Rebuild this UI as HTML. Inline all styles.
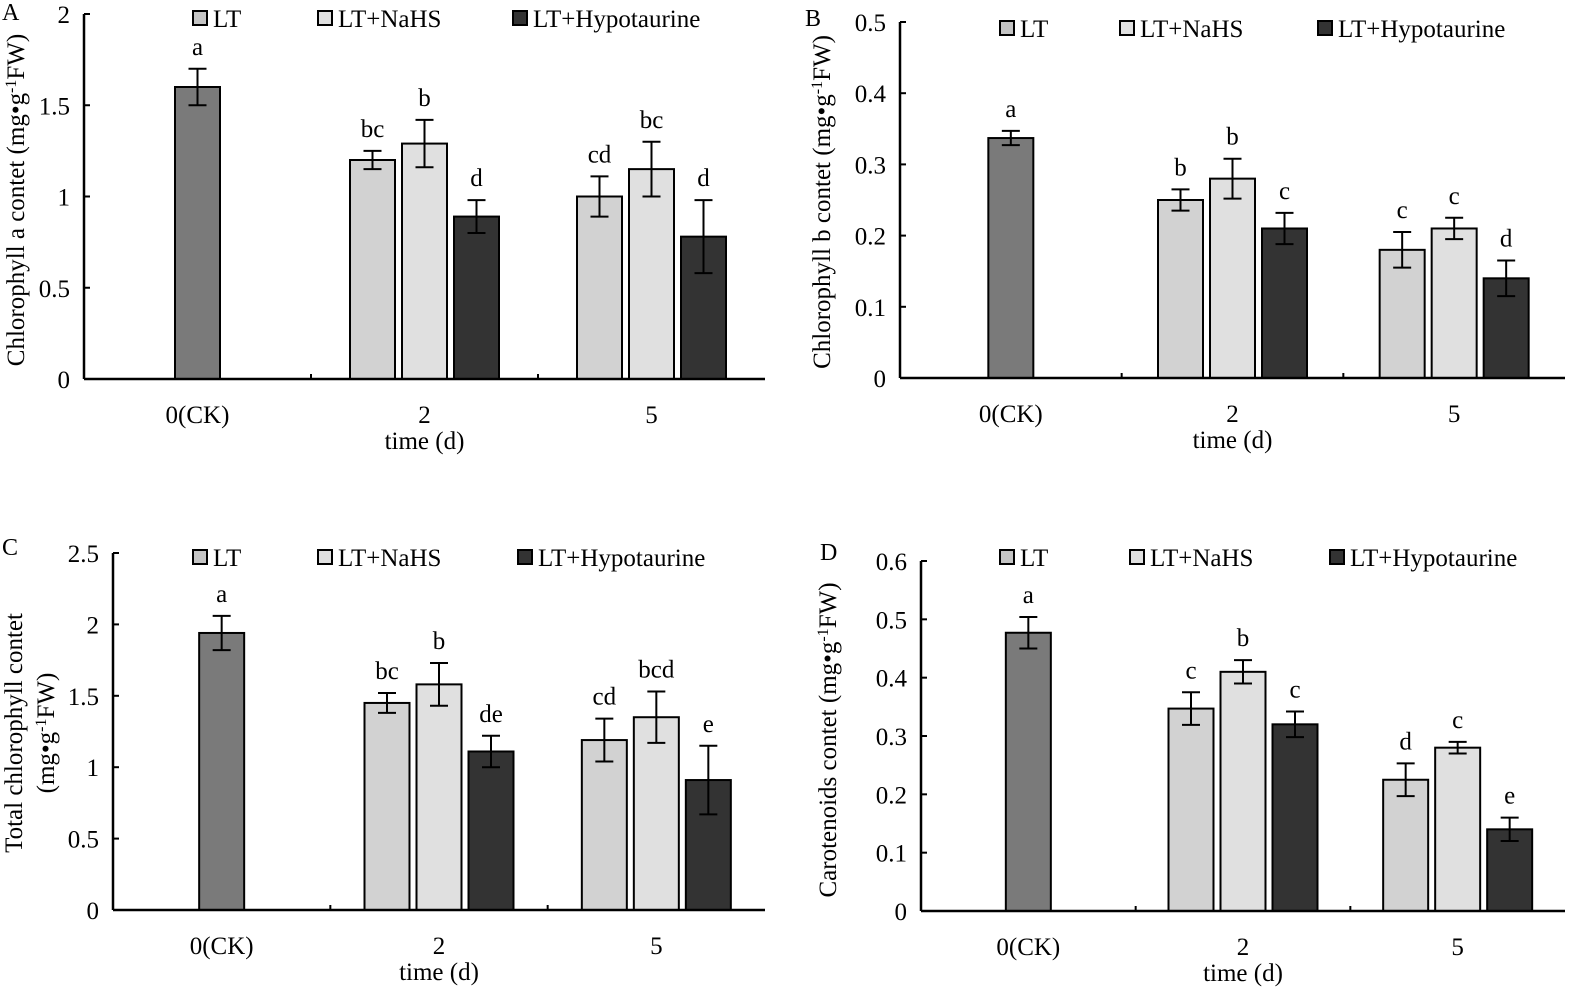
<!DOCTYPE html>
<html><head><meta charset="utf-8"><style>
body{margin:0;background:#fff;}
svg{display:block;font-family:"Liberation Serif",serif;}
</style></head><body>
<svg id="s" width="1594" height="1004"></svg>
<script>
const categories=["0(CK)","2","5"];
const seriesNames=["LT","LT+NaHS","LT+Hypotaurine"];
const aCK=[1.6,0.1], aLT=[1.2,1.0], aLTe=[0.05,0.11], aNa=[1.29,1.15], aNae=[0.13,0.15], aHy=[0.89,0.78], aHye=[0.09,0.2];
const aLetters=["a","bc","b","d","cd","bc","d"];
const bCK=[0.337,0.01], bLT=[0.25,0.18], bLTe=[0.015,0.025], bNa=[0.28,0.21], bNae=[0.028,0.015], bHy=[0.21,0.14], bHye=[0.022,0.025];
const bLetters=["a","b","b","c","c","c","d"];
const cCK=[1.94,0.12], cLT=[1.45,1.19], cLTe=[0.07,0.15], cNa=[1.58,1.35], cNae=[0.15,0.18], cHy=[1.11,0.91], cHye=[0.11,0.24];
const cLetters=["a","bc","b","de","cd","bcd","e"];
const dCK=[0.477,0.027], dLT=[0.347,0.225], dLTe=[0.028,0.028], dNa=[0.41,0.28], dNae=[0.02,0.01], dHy=[0.32,0.14], dHye=[0.022,0.02];
const dLetters=["a","c","b","c","d","c","e"];
const aTicks=["0","0.5","1","1.5","2"], bTicks=["0","0.1","0.2","0.3","0.4","0.5"], cTicks=["0","0.5","1","1.5","2","2.5"], dTicks=["0","0.1","0.2","0.3","0.4","0.5","0.6"];
const NS="http://www.w3.org/2000/svg";
const svg=document.getElementById('s');
const FS=25;
function el(t,a,p,txt){const e=document.createElementNS(NS,t);for(const k in a)e.setAttribute(k,a[k]);if(txt!==undefined)e.textContent=txt;(p||svg).appendChild(e);return e;}
function panel(P){
  const g=el('g',{});
  
  
  const ymax=parseFloat(P.ticks[P.ticks.length-1]);
  const y=v=>P.y0-(v/ymax)*(P.y0-P.yt);
  const cw=(P.x1-P.x0)/3;
  const cx=i=>P.x0+cw*(i+0.5);
  const t=el('text',{x:P.lx,y:P.ly,'font-size':24},g,P.id.toUpperCase());
  
  P.ticks.forEach(tk=>{const v=parseFloat(tk);const yy=y(v);
    el('line',{x1:P.x0,x2:P.x0+6,y1:yy,y2:yy,stroke:'#000','stroke-width':2},g);
    const tt=el('text',{x:P.x0-14,y:yy+9,'font-size':FS,'text-anchor':'end'},g,tk);
    });
  for(let i=1;i<3;i++){el('line',{x1:P.x0+cw*i,x2:P.x0+cw*i,y1:P.y0,y2:P.y0-5,stroke:'#000','stroke-width':2},g);}
  categories.forEach((c,i)=>{const tt=el('text',{x:cx(i),y:P.y0+44,'font-size':FS,'text-anchor':'middle'},g,c);
    });
  const xt=el('text',{x:cx(1),y:P.y0+70,'font-size':FS,'text-anchor':'middle'},g,'time (d)');
  
  const yt=el('text',{transform:`translate(${P.tx},${P.ty}) rotate(-90)`,'font-size':FS,'text-anchor':'middle'},g);
  
  P.title.forEach((line,k)=>{const ts=el('tspan',{x:0,dy:k?32:0},yt);ts.innerHTML=line;});
  const bw=45, off=52;
  function bar(xc,v,e,fill,letter,name){
    const r=el('rect',{x:xc-bw/2,y:y(v),width:bw,height:P.y0-y(v),fill:fill,stroke:'#000','stroke-width':2},g);
    
    el('line',{x1:xc,x2:xc,y1:y(v+e),y2:y(v-e),stroke:'#000','stroke-width':2},g);
    el('line',{x1:xc-9,x2:xc+9,y1:y(v+e),y2:y(v+e),stroke:'#000','stroke-width':2},g);
    el('line',{x1:xc-9,x2:xc+9,y1:y(v-e),y2:y(v-e),stroke:'#000','stroke-width':2},g);
    const l=el('text',{x:xc,y:y(v+e)-14,'font-size':FS,'text-anchor':'middle'},g,letter);
    
  }
  bar(cx(0),P.ck[0],P.ck[1],'#7a7a7a',P.letters[0],'bar-ck');
  const fills=['#d2d2d2','#e0e0e0','#333333'];
  for(let i=0;i<2;i++){
    bar(cx(i+1)-off,P.lt[i],P.lte[i],fills[0],P.letters[1+i*3],'bar-lt');
    bar(cx(i+1),P.na[i],P.nae[i],fills[1],P.letters[2+i*3],'bar-nahs');
    bar(cx(i+1)+off,P.hy[i],P.hye[i],fills[2],P.letters[3+i*3],'bar-hypotaurine');
  }
  el('line',{x1:P.x0,x2:P.x0,y1:P.yt,y2:P.y0,stroke:'#000','stroke-width':2.5},g);
  el('line',{x1:P.x0,x2:P.x1,y1:P.y0,y2:P.y0,stroke:'#000','stroke-width':2.5},g);
  seriesNames.forEach((n,i)=>{const lg=el('g',{},g);
    
    el('rect',{x:P.leg[i],y:P.legy-7,width:14,height:14,fill:i==0?'#c4c4c4':fills[i],stroke:'#000','stroke-width':2},lg);
    el('text',{x:P.leg[i]+20,y:P.legy+9,'font-size':FS},lg,n);});
}
const sup='(mg&#8226;g<tspan baseline-shift="super" font-size="16">-1</tspan>FW)';
panel({id:'a',x0:84,x1:765,yt:14,y0:379,ticks:aTicks,ck:aCK,lt:aLT,lte:aLTe,na:aNa,nae:aNae,hy:aHy,hye:aHye,letters:aLetters,lx:2,ly:20,tx:24,ty:200,title:['Chlorophyll a contet '+sup],leg:[193,318,513],legy:18});
panel({id:'b',x0:900,x1:1565,yt:22,y0:378,ticks:bTicks,ck:bCK,lt:bLT,lte:bLTe,na:bNa,nae:bNae,hy:bHy,hye:bHye,letters:bLetters,lx:805,ly:26,tx:830,ty:202,title:['Chlorophyll b contet '+sup],leg:[1000,1120,1318],legy:28});
panel({id:'c',x0:113,x1:765,yt:553,y0:910,ticks:cTicks,ck:cCK,lt:cLT,lte:cLTe,na:cNa,nae:cNae,hy:cHy,hye:cHye,letters:cLetters,lx:2,ly:555,tx:22,ty:733,title:['Total chlorophyll  contet',sup],leg:[193,318,518],legy:557});
panel({id:'d',x0:921,x1:1565,yt:561,y0:911,ticks:dTicks,ck:dCK,lt:dLT,lte:dLTe,na:dNa,nae:dNae,hy:dHy,hye:dHye,letters:dLetters,lx:820,ly:560,tx:836,ty:740,title:['Carotenoids contet '+sup],leg:[1000,1130,1330],legy:557});
</script>
</body></html>
